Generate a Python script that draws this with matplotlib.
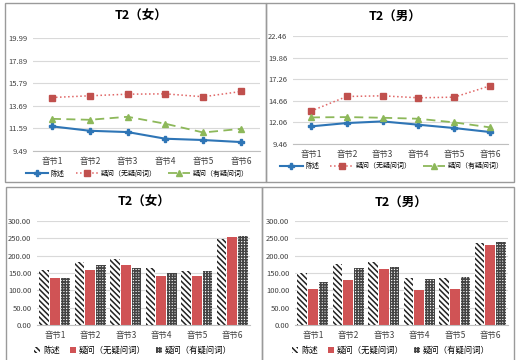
import matplotlib
matplotlib.use("Agg")
import matplotlib.pyplot as plt
from matplotlib.patches import Rectangle
import numpy as np

plt.rcParams['font.family'] = ['Noto Sans CJK SC', 'DejaVu Sans']
plt.rcParams['hatch.linewidth'] = 1.1

# 数据
categories = ['音节1', '音节2', '音节3', '音节4', '音节5', '音节6']
series_names = ['陈述', '疑问（无疑问词）', '疑问（有疑问词）']

# T2 音高（折线）
f_chenshu = [11.78, 11.37, 11.25, 10.63, 10.51, 10.32]
f_wu = [14.46, 14.62, 14.77, 14.80, 14.53, 15.02]
f_you = [12.48, 12.39, 12.67, 12.02, 11.21, 11.55]
f_ticks = [9.49, 11.59, 13.69, 15.79, 17.89, 19.99]

m_chenshu = [11.58, 11.98, 12.18, 11.78, 11.38, 10.90]
m_wu = [13.42, 15.18, 15.26, 15.02, 15.10, 16.46]
m_you = [12.66, 12.70, 12.62, 12.50, 12.06, 11.46]
m_ticks = [9.46, 12.06, 14.66, 17.26, 19.86, 22.46]

# T2 时长（柱状）
fd_chenshu = [160, 182, 191, 163, 155, 248]
fd_wu = [137, 158, 174, 142, 141, 253]
fd_you = [137, 172, 163, 150, 155, 256]

md_chenshu = [150, 175, 181, 136, 135, 236]
md_wu = [104, 129, 162, 100, 105, 231]
md_you = [125, 163, 168, 134, 139, 239]
bar_ticks = [0, 50, 100, 150, 200, 250, 300]

W, H = 519, 360
fig = plt.figure(figsize=(W / 100, H / 100), dpi=100)


def box(x0, y0, x1, y1):
    return [x0 / W, 1 - y1 / H, (x1 - x0) / W, (y1 - y0) / H]


def style_ax(ax, ticks, fmt):
    ax.set_xlim(-0.5, 5.5)
    ax.set_ylim(ticks[0], ticks[-1])
    ax.set_yticks(ticks)
    ax.set_yticklabels([fmt % t for t in ticks], fontsize=5.5, color='#404040')
    ax.set_xticks(range(6))
    ax.set_xticklabels(categories, fontsize=6, color='#404040')
    ax.tick_params(length=0, pad=4)
    for s in ['top', 'right', 'left']:
        ax.spines[s].set_visible(False)
    ax.spines['bottom'].set_color('#BFBFBF')
    ax.grid(axis='y', color='#D9D9D9', lw=0.8)
    ax.set_axisbelow(True)


def line_panel(rect, title, a, b, c, ticks, title_y):
    ax = fig.add_axes(rect)
    x = np.arange(6)
    ax.plot(x, a, color='#2E75B6', lw=1.5, marker='P', ms=4, label=series_names[0])
    ax.plot(x, b, color='#E06666', lw=1.1, ls=':', marker='s', ms=5,
            mfc='#C0504D', mec='#C0504D', label=series_names[1])
    ax.plot(x, c, color='#8DB85A', lw=1.3, ls=(0, (5, 3)), marker='^', ms=5,
            label=series_names[2])
    style_ax(ax, ticks, '%.2f')
    ax.legend(loc='upper center', bbox_to_anchor=(0.46, -0.13), ncol=3,
              frameon=False, fontsize=5, handlelength=3.2, columnspacing=1.6,
              handletextpad=0.4, borderaxespad=0.2)
    fig.text(rect[0] + rect[2] / 2 - 0.01, title_y, title, ha='center', va='center',
             fontsize=9, fontweight='bold')
    return ax


def bar_panel(rect, title, a, b, c, title_y):
    ax = fig.add_axes(rect)
    x = np.arange(6)
    w = 0.27
    ax.bar(x - 0.3, a, w, color='white', edgecolor='#222222', hatch='\\\\\\\\\\\\',
           lw=0, label=series_names[0])
    ax.bar(x, b, w, color='#D05355', lw=0, label=series_names[1])
    ax.bar(x + 0.3, c, w, color='white', edgecolor='#444444', hatch='++++++',
           lw=0, label=series_names[2])
    style_ax(ax, bar_ticks, '%.2f')
    ax.legend(loc='upper center', bbox_to_anchor=(0.45, -0.13), ncol=3,
              frameon=False, fontsize=6, handlelength=0.8, handleheight=0.8,
              columnspacing=1.2, handletextpad=0.3)
    fig.text(rect[0] + rect[2] / 2, title_y, title, ha='center', va='center',
             fontsize=9, fontweight='bold')
    return ax


line_panel(box(33, 38, 260, 151), 'T2（女）', f_chenshu, f_wu, f_you, f_ticks, 1 - 16 / H)
line_panel(box(293, 36, 508, 144), 'T2（男）', m_chenshu, m_wu, m_you, m_ticks, 1 - 17 / H)
bar_panel(box(37, 221, 250, 325), 'T2（女）', fd_chenshu, fd_wu, fd_you, 1 - 202 / H)
bar_panel(box(295, 221, 508, 325), 'T2（男）', md_chenshu, md_wu, md_you, 1 - 203 / H)

# 外框
for x0, y0, x1, y1 in [(5, 3, 266, 182), (266, 3, 514, 182),
                       (6, 187, 262, 362), (262, 187, 514, 362)]:
    fig.patches.append(Rectangle((x0 / W, 1 - y1 / H), (x1 - x0) / W, (y1 - y0) / H,
                                 transform=fig.transFigure, fill=False,
                                 edgecolor='#9A9A9A', lw=1.0))

fig.savefig('out.png', dpi=100)
